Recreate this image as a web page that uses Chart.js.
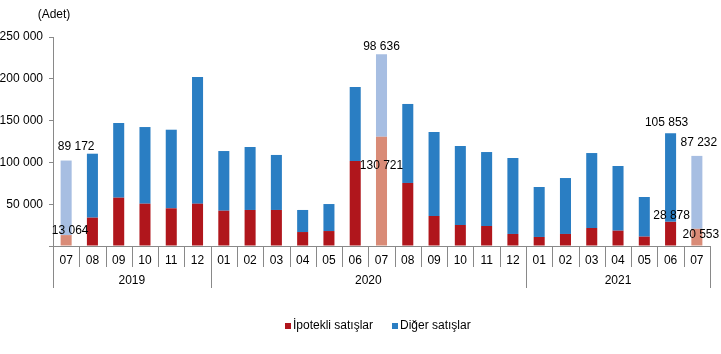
<!DOCTYPE html>
<html>
<head>
<meta charset="utf-8">
<script src="https://cdn.jsdelivr.net/npm/chart.js@4.4.1/dist/chart.umd.min.js"></script>
<style>
    html, body { margin: 0; padding: 0; background: #fff; }
    #wrap { width: 721px; height: 354px; }
</style>
</head>
<body>
<div id="wrap"><canvas id="salesChart" width="721" height="354"></canvas></div>
<script>
// Data
const months = ['07', '08', '09', '10', '11', '12',
    '01', '02', '03', '04', '05', '06', '07', '08', '09', '10', '11', '12',
    '01', '02', '03', '04', '05', '06', '07'];
const years = ['2019', '2020', '2021'];
const yearMonthCounts = [6, 12, 7];

const mortgageSales = [13064, 33900, 57800, 50600, 45100, 50600,
    42200, 43100, 43100, 16700, 17900, 101700, 130721, 75400, 35900, 25100, 23900, 14400,
    10800, 14400, 21500, 18300, 11200, 28878, 20553];
const otherSales = [89172, 76500, 89300, 91700, 94000, 151600,
    71400, 75300, 65800, 26400, 32300, 88500, 98636, 94500, 100500, 94500, 88500, 90900,
    59800, 66900, 89700, 77400, 47400, 105853, 87232];
const yTicks = [0, 50000, 100000, 150000, 200000, 250000];

// Bars shown in light colours and labelled
const highlighted = [0, 12, 23, 24];
const lightBars = [0, 12, 24];

// Label offsets from the bar top (style only)
const otherLabelOffset = { 0: [10, -14], 12: [0, -8], 23: [-4, -11], 24: [2, -13] };
const mortgageLabelOffset = { 0: [4, -4], 12: [0, 29], 23: [1, -6], 24: [4, 6] };

const RED = '#B0161C';
const RED_LIGHT = '#D98B77';
const BLUE = '#2A7EC3';
const BLUE_LIGHT = '#A7BEE2';
const AXIS = '#898989';
const FONT = '"Liberation Sans", Arial, sans-serif';

function formatNumber(v) {
    return String(Math.round(v)).replace(/\B(?=(\d{3})+(?!\d))/g, ' ');
}

const decorPlugin = {
    id: 'decor',
    afterDraw(chart) {
        const ctx = chart.ctx;
        const x = chart.scales.x;
        const area = chart.chartArea;
        const step = x.getPixelForValue(1) - x.getPixelForValue(0);
        const left = x.getPixelForValue(0) - step / 2;
        const base = area.bottom;

        ctx.save();
        ctx.strokeStyle = AXIS;
        ctx.lineWidth = 1;

        // month separators
        const yearEdges = [0];
        yearMonthCounts.reduce((acc, n) => { yearEdges.push(acc + n); return acc + n; }, 0);
        for (let i = 0; i <= months.length; i++) {
            const px = Math.round(left + i * step) + 0.5;
            const long = yearEdges.includes(i);
            ctx.beginPath();
            ctx.moveTo(px, base);
            ctx.lineTo(px, base + (long ? 42 : 21));
            ctx.stroke();
        }

        // year labels
        ctx.fillStyle = '#000';
        ctx.font = '12px ' + FONT;
        ctx.textAlign = 'center';
        ctx.textBaseline = 'middle';
        years.forEach((y, i) => {
            const cx = left + (yearEdges[i] + yearEdges[i + 1]) / 2 * step;
            ctx.fillText(y, cx, base + 35);
        });

        // unit
        ctx.fillText('(Adet)', 54, 15);

        // data labels
        const metaM = chart.getDatasetMeta(0);
        const metaO = chart.getDatasetMeta(1);
        highlighted.forEach(i => {
            const bo = metaO.data[i];
            const bm = metaM.data[i];
            const oo = otherLabelOffset[i];
            const om = mortgageLabelOffset[i];
            ctx.fillText(formatNumber(otherSales[i]), bo.x + oo[0], bo.y + oo[1]);
            ctx.fillText(formatNumber(mortgageSales[i]), bm.x + om[0], bm.y + om[1]);
        });

        // legend
        const ly = 326;
        ctx.textAlign = 'left';
        ctx.fillStyle = RED;
        ctx.fillRect(285, ly - 3, 6, 6);
        ctx.fillStyle = '#000';
        ctx.fillText('İpotekli satışlar', 293, ly);
        ctx.fillStyle = BLUE;
        ctx.fillRect(392, ly - 3, 6, 6);
        ctx.fillStyle = '#000';
        ctx.fillText('Diğer satışlar', 400, ly);
        ctx.restore();
    }
};

const ctx = document.getElementById('salesChart').getContext('2d');
const salesChart = new Chart(ctx, {
    type: 'bar',
    data: {
        labels: months,
        datasets: [{
            label: 'İpotekli satışlar',
            data: mortgageSales,
            backgroundColor: months.map((m, i) => lightBars.includes(i) ? RED_LIGHT : RED),
            barPercentage: 0.42,
            categoryPercentage: 1
        }, {
            label: 'Diğer satışlar',
            data: otherSales,
            backgroundColor: months.map((m, i) => lightBars.includes(i) ? BLUE_LIGHT : BLUE),
            barPercentage: 0.42,
            categoryPercentage: 1
        }]
    },
    options: {
        responsive: false,
        animation: false,
        layout: { padding: { top: 37, right: 11, left: 0, bottom: 0 } },
        plugins: {
            legend: { display: false },
            tooltip: { enabled: false }
        },
        scales: {
            x: {
                stacked: true,
                grid: { display: false, drawTicks: false },
                border: { display: true, color: AXIS },
                ticks: {
                    color: '#000',
                    font: { family: FONT, size: 12 },
                    padding: 7,
                    maxRotation: 0,
                    autoSkip: false
                },
                afterFit: scale => { scale.height = 108; }
            },
            y: {
                stacked: true,
                min: 0,
                max: 250000,
                afterBuildTicks: scale => { scale.ticks = yTicks.map(v => ({ value: v })); },
                grid: { drawOnChartArea: false, drawTicks: true, tickLength: 4, color: AXIS },
                border: { display: true, color: AXIS },
                ticks: {
                    color: '#000',
                    font: { family: FONT, size: 12 },
                    padding: 6,
                    callback: v => v === 0 ? '' : formatNumber(v)
                },
                afterFit: scale => { scale.width = 53; }
            }
        }
    },
    plugins: [decorPlugin]
});
</script>
</body>
</html>
